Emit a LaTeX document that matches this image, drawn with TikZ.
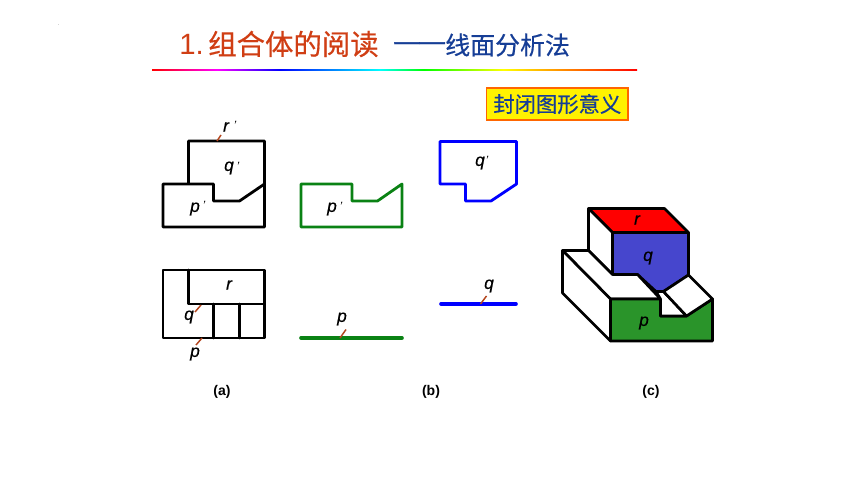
\documentclass[tikz,border=0pt]{standalone}
\usepackage{fontspec}
\setmainfont{Liberation Sans}
\newfontfamily\cjk[FakeBold=0.5]{Noto Sans CJK SC}
\newfontfamily\letterfont[FakeBold=0.5]{Liberation Sans Italic}
\newfontfamily\dashfont[FakeBold=1.5]{Liberation Sans}
\usepackage{xcolor}
\definecolor{titlered}{RGB}{208,62,20}
\definecolor{titleblue}{RGB}{22,62,150}
\definecolor{viewgreen}{RGB}{10,130,20}
\definecolor{faceblue}{RGB}{70,70,205}
\definecolor{facegreen}{RGB}{42,148,42}
\definecolor{leadcolor}{RGB}{180,70,30}
\pgfdeclarehorizontalshading{rainbowline}{100bp}{
  color(0bp)=(red); color(25bp)=(red); color(31.7bp)=(magenta); color(38.2bp)=(blue); color(48.5bp)=(cyan);
  color(53bp)=(green); color(61.2bp)=(yellow); color(68bp)=(orange); color(75bp)=(red); color(100bp)=(red)}
\tikzset{
  outline/.style={line width=2.1pt, line join=round, line cap=round},
  flatline/.style={line width=2.7pt, line cap=round},
  edge/.style={line width=2pt, line join=round, line cap=round},
  lead/.style={draw=leadcolor, line width=1.1pt},
  letter/.style={inner sep=0pt, font=\letterfont\fontsize{13}{14}\selectfont},
  prime/.style={inner sep=0pt, font=\itshape\fontsize{9}{10}\selectfont},
  caption/.style={inner sep=0pt, font=\fontsize{10.5}{12}\selectfont\bfseries}
}
\begin{document}
\begin{tikzpicture}[x=0.75pt, y=-0.75pt]
    \useasboundingbox (0,0) rectangle (860,484);
    \fill[white] (0,0) rectangle (860,484);

    % Title
    \node[inner sep=0pt, text=black, font=\fontsize{3}{3}\selectfont] (speck) at (59,25) {.};
    \node[anchor=west, inner sep=0pt, text=titlered, font=\fontsize{22}{24}\selectfont] (titlenum) at (179,44) {1.};
    \node[anchor=west, inner sep=0pt, text=titlered, font=\cjk\fontsize{21.3}{24}\selectfont] (titlemain) at (208,44) {组合体的阅读};
    \node[anchor=west, inner sep=0pt, text=titleblue, font=\dashfont\fontsize{19}{24}\selectfont] (titledash) at (394,46) {——};
    \node[anchor=west, inner sep=0pt, text=titleblue, font=\cjk\fontsize{18.7}{24}\selectfont] (titlesub) at (445,45) {线面分析法};
    \shade[shading=rainbowline] (152,69.2) rectangle (637,70.8);
    \node[draw=orange!80!red, fill=yellow, line width=0.8pt, text=titleblue, minimum width=106pt, minimum height=24pt, inner sep=0pt, font=\cjk\fontsize{16}{18}\selectfont] (meaning) at (557.3,104) {封闭图形意义};

    % View (a), top
    \draw[outline] (188.5,184) -- (188.5,141) -- (264.5,141) -- (264.5,227) -- (163,227) -- (163,184) -- (213.5,184) -- (213.5,201) -- (239.5,201) -- (264.5,184);
    \node[letter] (ra) at (226,127) {r};
    \node[prime] (rapr) at (235,125) {'};
    \node[letter] (qa) at (229,168) {q};
    \node[prime] (qapr) at (238,166) {'};
    \node[letter] (pa) at (195,209) {p};
    \node[prime] (papr) at (204,205) {'};
    \coordinate (raend) at (221,135);
    \coordinate (rafoot) at (217,141);
    \draw[lead] (raend) -- (rafoot);

    % View (a), bottom
    \draw[outline] (163,270) rectangle (264.5,338);
    \draw[outline] (188.5,270) -- (188.5,304) -- (264.5,304);
    \draw[outline] (213.5,304) -- (213.5,338);
    \draw[outline] (239.5,304) -- (239.5,338);
    \node[letter] (rb) at (229,285) {r};
    \node[letter] (qb) at (189,317) {q};
    \node[letter] (pb) at (195,354) {p};
    \coordinate (qbend) at (195,312);
    \coordinate (qbfoot) at (201,305);
    \coordinate (pbend) at (196,345);
    \coordinate (pbfoot) at (202,338);
    \draw[lead] (qbend) -- (qbfoot);
    \draw[lead] (pbend) -- (pbfoot);

    % View (b), the two faces
    \draw[outline, draw=viewgreen] (301,184) -- (352,184) -- (352,201) -- (377.5,201) -- (402,184) -- (402,227) -- (301,227) -- cycle;
    \draw[outline, draw=blue] (440,141.5) -- (516.5,141.5) -- (516.5,184) -- (491,201) -- (465.5,201) -- (465.5,184) -- (440,184) -- cycle;
    \node[letter] (pc) at (332,209) {p};
    \node[prime] (pcpr) at (341,206) {'};
    \node[letter] (qc) at (480,163) {q};
    \node[prime] (qcpr) at (487,160) {'};

    % View (b), the two edges
    \draw[flatline, draw=viewgreen] (301,338) -- (402,338);
    \draw[flatline, draw=blue] (441,304) -- (516,304);
    \node[letter] (pd) at (342,319) {p};
    \node[letter] (qd) at (489,286) {q};
    \coordinate (pdend) at (346,329.5);
    \coordinate (pdfoot) at (340,338);
    \coordinate (qdend) at (486.5,296);
    \coordinate (qdfoot) at (480.5,304);
    \draw[lead] (pdend) -- (pdfoot);
    \draw[lead] (qdend) -- (qdfoot);

    % Solid (c)
    \filldraw[edge, fill=red] (588.5,208.5) -- (664.5,208.5) -- (688.5,232.5) -- (612.5,232.5) -- cycle;
    \filldraw[edge, fill=faceblue] (612.5,232.5) -- (688.5,232.5) -- (688.5,275) -- (663.5,291.5) -- (656,291.5) -- (637.5,274.5) -- (612.5,274.5) -- cycle;
    \filldraw[edge, fill=white] (588.5,208.5) -- (612.5,232.5) -- (612.5,274.5) -- (588.5,250.5) -- cycle;
    \filldraw[edge, fill=white] (562.5,250.5) -- (588.5,250.5) -- (612.5,274.5) -- (637.5,274.5) -- (660.5,299) -- (610.5,299) -- cycle;
    \filldraw[edge, fill=white] (562.5,250.5) -- (610.5,299) -- (610.5,341) -- (562.5,293) -- cycle;
    \filldraw[edge, fill=facegreen] (610.5,299) -- (660.5,299) -- (660.5,316) -- (686.5,316) -- (712.5,299) -- (712.5,341) -- (610.5,341) -- cycle;
    \filldraw[edge, fill=white] (656,291.5) -- (663.5,291.5) -- (686.5,316) -- (660.5,316) -- (660.5,299) -- cycle;
    \filldraw[edge, fill=white] (663.5,291.5) -- (688.5,275) -- (712.5,299) -- (686.5,316) -- cycle;
    \node[letter] (re) at (637,220) {r};
    \node[letter] (qe) at (648,258) {q};
    \node[letter] (pe) at (644,323) {p};

    % Captions
    \node[caption] (capa) at (222,392) {(a)};
    \node[caption] (capb) at (431,392) {(b)};
    \node[caption] (capc) at (651,392) {(c)};
\end{tikzpicture}
\end{document}
